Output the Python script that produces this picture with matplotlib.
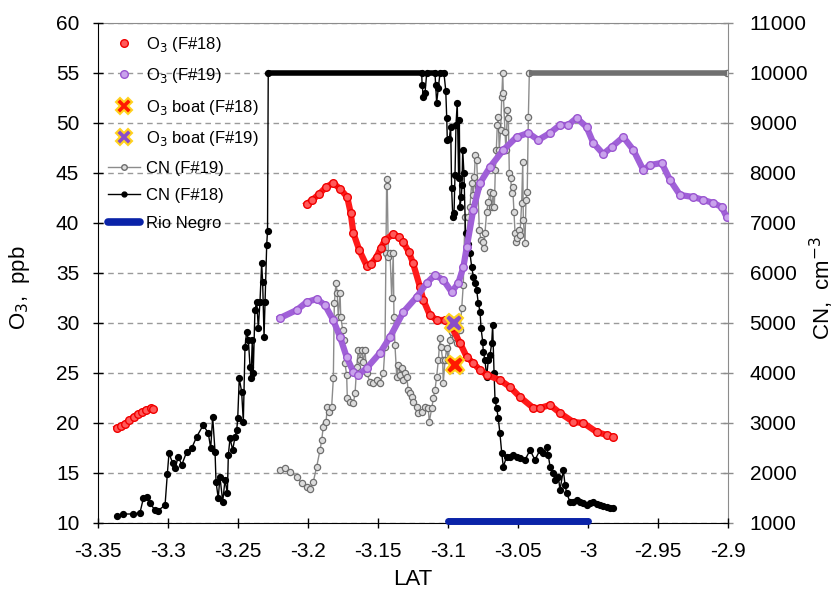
import numpy as np
import matplotlib
matplotlib.use("Agg")
import matplotlib.pyplot as plt
from matplotlib.lines import Line2D

plt.rcParams['font.family'] = ['Liberation Sans', 'DejaVu Sans']

# ---- O3 F#18 (red), nan splits the two legs
o3_18_lat = [-3.3366, -3.3335, -3.3305, -3.3275, -3.3245, -3.3215, -3.3185, -3.3155, -3.3125, -3.3105,
             np.nan,
             -3.2009, -3.197, -3.192, -3.187, -3.182, -3.177, -3.172, -3.1695, -3.1676, -3.1634,
             -3.158, -3.155, -3.151, -3.148, -3.145, -3.139, -3.135, -3.132, -3.128, -3.125,
             -3.120, -3.1176, -3.113, -3.108, -3.102, -3.0974, -3.0914, -3.0866, -3.082, -3.0772,
             -3.0724, -3.0629, -3.0557, -3.0486, -3.039, -3.0343, -3.0271, -3.02, -3.0105, -3.0033,
             -2.9938, -2.9867, -2.982]
o3_18 = [19.5, 19.7, 19.9, 20.3, 20.6, 20.9, 21.1, 21.3, 21.5, 21.4,
         np.nan,
         41.9, 42.3, 42.9, 43.6, 44.0, 43.4, 42.6, 41.0, 39.0, 37.3,
         35.7, 35.9, 36.6, 37.5, 38.3, 38.9, 38.6, 38.1, 37.1, 36.0,
         33.6, 32.3, 30.8, 30.3, 30.3, 29.6, 28.0, 26.6, 26.0, 25.3,
         24.8, 24.3, 23.6, 22.6, 21.5, 21.5, 21.8, 21.0, 20.1, 20.0,
         19.1, 18.8, 18.6]

# ---- O3 F#19 (purple)
o3_19_lat = [-3.2200, -3.2080, -3.2009, -3.1938, -3.1879, -3.1820, -3.1771, -3.1724, -3.1676, -3.1640,
             -3.1580, -3.1486, -3.1414, -3.1319, -3.1224, -3.1152, -3.1093, -3.1033, -3.0974, -3.0926,
             -3.0890, -3.0866, -3.0820, -3.0771, -3.0700, -3.0605, -3.0510, -3.0426, -3.0355, -3.0271,
             -3.0200, -3.0141, -3.0081, -3.0010, -2.9962, -2.9891, -2.9831, -2.9748, -2.9676, -2.9605,
             -2.9557, -2.9474, -2.9414, -2.9343, -2.9248, -2.9176, -2.9105, -2.9045, -2.9010]
o3_19 = [30.5, 31.3, 32.1, 32.4, 31.8, 30.3, 28.6, 26.6, 25.1, 24.8,
         25.5, 27.0, 28.6, 31.1, 32.6, 34.0, 34.8, 34.3, 33.1, 34.0,
         35.6, 37.6, 41.3, 44.0, 45.6, 47.3, 48.6, 49.0, 48.3, 49.0,
         49.8, 49.8, 50.5, 49.6, 48.0, 46.9, 47.6, 48.6, 47.3, 45.3,
         45.8, 46.0, 44.3, 42.8, 42.6, 42.3, 42.0, 41.6, 40.6]

# ---- O3 boat
boat18_lat, boat18 = [-3.095], [25.8]
boat19_lat, boat19 = [-3.0955], [30.0]

# ---- CN F#18 (black)
cn18_lat = [-3.3366, -3.3319, -3.3248, -3.3200, -3.3176, -3.3152, -3.3129, -3.3093, -3.3069, -3.3021,
            -3.3005, -3.2993, -3.2966, -3.2950, -3.2926, -3.2902, -3.2866, -3.2831, -3.2795, -3.2748,
            -3.2712, -3.2695, -3.2681, -3.2664, -3.2657, -3.2641, -3.2629, -3.2609, -3.2593, -3.2576,
            -3.2569, -3.2557, -3.2538, -3.2521, -3.2509, -3.2502, -3.2491, -3.2474, -3.2462, -3.2450,
            -3.2438, -3.2426, -3.2414, -3.2407, -3.2398, -3.2391, -3.2379, -3.2366, -3.2355, -3.2343,
            -3.2331, -3.2324, -3.2314, -3.2307, -3.2295, -3.2289, -3.2284,
            -3.1188, -3.1185, -3.1176, -3.1164, -3.1152, -3.1093, -3.1088, -3.1081, -3.1069, -3.1057,
            -3.1029, -3.1016, -3.1009, -3.1005, -3.0991, -3.0981, -3.0974, -3.0966, -3.0957, -3.0950,
            -3.0943, -3.0934, -3.0924, -3.0919, -3.0914, -3.0905, -3.0900, -3.0895, -3.0886, -3.0875,
            -3.0864, -3.0855, -3.0843, -3.0831, -3.0819, -3.0807, -3.0795, -3.0784, -3.0771, -3.0764,
            -3.0752, -3.0748, -3.0736, -3.0724, -3.0712, -3.0700, -3.0688, -3.0681, -3.0671, -3.0664,
            -3.0652, -3.0641, -3.0629, -3.0616, -3.0605, -3.0581, -3.0557, -3.0534, -3.0509, -3.0486,
            -3.0450, -3.0414, -3.0379, -3.0343, -3.0319, -3.0295, -3.0284, -3.0271, -3.0248, -3.0236,
            -3.0212, -3.0200, -3.0176, -3.0164, -3.0152, -3.0129, -3.0105, -3.0081, -3.0057, -3.0034,
            -3.0009, -2.9986, -2.9962, -2.9938, -2.9914, -2.9891, -2.9867, -2.9843, -2.9819]
cn18 = [1140, 1180, 1180, 1206, 1494, 1514, 1394, 1260, 1250, 1360,
        1974, 2394, 2194, 2094, 2326, 2160, 2426, 2494, 2726, 2960,
        2794, 2494, 3126, 2426, 1826, 1494, 1926, 1426, 1860, 1594,
        2360, 2694, 2460, 2726, 2860, 3094, 3894, 3626, 3026, 4526,
        4826, 4660, 4126, 3894, 4660, 4000, 5260, 5426, 4894, 5426,
        6194, 5826, 4726, 5426, 6560, 6846, 10000,
        10000, 9760, 9526, 9606, 10000, 10000, 9760, 9406, 9694, 10000,
        10000, 9646, 9094, 8660, 8674, 8926, 7694, 7126, 7194, 7960,
        8960, 9406, 7894, 9060, 7326, 7526, 7760, 8460, 7994, 6794,
        6460, 6590, 6394, 6126, 5926, 5794, 5660, 5400, 5226, 4894,
        4626, 4426, 4260, 3926, 4260, 4360, 4594, 4960, 3994, 3460,
        3294, 3094, 2794, 2394, 2126, 2326, 2330, 2360, 2330, 2294,
        2260, 2460, 2260, 2460, 2394, 2526, 2360, 2126, 1994, 1860,
        1930, 1660, 2060, 1760, 1594, 1426, 1426, 1460, 1426, 1400,
        1360, 1400, 1426, 1380, 1360, 1340, 1326, 1310, 1294]

# ---- CN F#19 (grey)
cn19_lat = [-3.2200, -3.2164, -3.2129, -3.2081, -3.2045, -3.2009, -3.1986, -3.1962, -3.1938, -3.1914,
            -3.1902, -3.1891, -3.1871, -3.1862, -3.1848, -3.1831, -3.1819, -3.1812, -3.1800, -3.1791,
            -3.1784, -3.1771, -3.1766, -3.1752, -3.1743, -3.1736, -3.1724, -3.1719, -3.1700, -3.1676,
            -3.1664, -3.1652, -3.1641, -3.1629, -3.1616, -3.1605, -3.1593, -3.1581, -3.1557, -3.1534,
            -3.1509, -3.1486, -3.1462, -3.1450, -3.1443, -3.1438, -3.1434, -3.1426, -3.1414, -3.1402,
            -3.1391, -3.1386, -3.1379, -3.1366, -3.1355, -3.1343, -3.1331, -3.1319, -3.1307, -3.1295,
            -3.1284, -3.1271, -3.1259, -3.1248, -3.1224, -3.1212, -3.1188, -3.1164, -3.1141, -3.1134,
            -3.1116, -3.1105, -3.1093, -3.1081, -3.1069, -3.1057, -3.1050, -3.1038, -3.1034, -3.1021,
            -3.1009, -3.0998, -3.0986, -3.0974, -3.0950, -3.0934, -3.0914, -3.0902, -3.0891, -3.0879,
            -3.0866, -3.0855, -3.0843, -3.0831, -3.0819, -3.0812, -3.0805, -3.0795, -3.0788, -3.0776,
            -3.0764, -3.0752, -3.0743, -3.0736, -3.0724, -3.0712, -3.0700, -3.0688, -3.0676, -3.0669,
            -3.0662, -3.0655, -3.0648, -3.0641, -3.0634, -3.0624, -3.0616, -3.0609, -3.0605, -3.0593,
            -3.0586, -3.0576, -3.0569, -3.0562, -3.0552, -3.0545, -3.0538, -3.0529, -3.0521, -3.0514,
            -3.0505, -3.0495, -3.0486, -3.0474, -3.0466, -3.0462, -3.0450, -3.0443, -3.0434, -3.0426,
            -3.0419, -2.9007]
cn19 = [2060, 2094, 2026, 1926, 1794, 1714, 1674, 1826, 2126, 2460,
        2660, 2926, 3026, 3326, 3226, 3326, 3894, 5394, 5806, 5594,
        5126, 5594, 5126, 4860, 4660, 4194, 3960, 3494, 3426, 3394,
        3594, 4126, 4460, 4260, 4460, 4226, 4460, 3994, 3826, 3794,
        3860, 3794, 3994, 4526, 6394, 7874, 7740, 6326, 6394, 5494,
        6394, 5126, 4560, 3926, 4160, 3960, 4094, 3860, 3994, 3926,
        3660, 3594, 3526, 3426, 3326, 3194, 3226, 3326, 3294, 3026,
        3294, 3494, 3660, 3926, 4260, 4694, 4526, 4260, 3794, 4260,
        4494, 4260, 4660, 4826, 4726, 4594, 4860, 5294, 5760, 7126,
        6526, 7126, 7326, 7794, 7560, 7926, 8360, 8260, 7726, 6860,
        6660, 6626, 6494, 6794, 7226, 7426, 7626, 7326, 7594, 7326,
        8060, 8460, 8960, 9126, 8460, 8860, 9526, 10000, 9594, 8826,
        8460, 9260, 9094, 7994, 7894, 7594, 7726, 7226, 6794, 6626,
        6694, 6860, 6760, 7394, 8226, 7060, 6594, 7460, 7626, 9126,
        10000, 10000]

rio_negro_lat = [-3.1, -3.0]
cn_max = 10000

fig = plt.figure(figsize=(8.39, 5.97), dpi=100)
ax = fig.add_axes([98/839, 1-523/597, 630/839, 500/597])
ax2 = ax.twinx()
ax.set_zorder(ax2.get_zorder() + 1)
ax.patch.set_visible(False)

# CN on the right axis (drawn below the O3 layer)
ax2.plot(cn19_lat, cn19, '-o', color='#8c8c8c', lw=1, ms=4.5, mfc='#dcdcdc', mec='#6e6e6e', mew=0.9)
ax2.plot(cn18_lat, cn18, '-o', color='black', lw=1, ms=4.2, mfc='black', mec='black')

# saturated counter -> dense markers look like a thick bar
for lats, vals, c in [(cn18_lat, cn18, 'black'), (cn19_lat, cn19, '#707070')]:
    for i in range(len(vals) - 1):
        if vals[i] >= cn_max and vals[i + 1] >= cn_max:
            ax2.plot(lats[i:i + 2], vals[i:i + 2], color=c, lw=4, solid_capstyle='butt')

ax2.set_ylim(1000, 11000)
ax2.set_yticks(np.arange(1000, 11001, 1000))
ax2.grid(axis='y', color='#9a9a9a', ls=(0, (4, 3)), lw=1)
ax2.set_ylabel('CN,  cm$^{-3}$', fontsize=16)
ax2.yaxis.set_label_coords(1.126, 0.47)

# O3 on the left axis
ax.plot(o3_18_lat, o3_18, '-o', color='#ff1a1a', lw=4.5, ms=5.5, mfc='#ff5a5a', mec='#f00000', mew=1)
ax.plot(o3_19_lat, o3_19, '-o', color='#a060d8', lw=4.5, ms=5.5, mfc='#c9a2ec', mec='#9a55d0', mew=1)
ax.plot(boat18_lat, boat18, 'X', ms=13, mfc='#ff1a00', mec='#ffd21e', mew=1.5)
ax.plot(boat19_lat, boat19, 'X', ms=13, mfc='#8a4cc8', mec='#ffd21e', mew=1.5)
ax.plot(rio_negro_lat, [10.2, 10.2], color='#0a23a8', lw=5, solid_capstyle='round', clip_on=False, zorder=5)

ax.set_xlim(-3.35, -2.9)
ax.set_ylim(10, 60)
ax.set_xticks(np.arange(-3.35, -2.899, 0.05))
ax.set_xticklabels(['-3.35', '-3.3', '-3.25', '-3.2', '-3.15', '-3.1', '-3.05', '-3', '-2.95', '-2.9'])
ax.set_yticks(np.arange(10, 61, 5))
ax.set_xlabel('LAT', fontsize=16)
ax.xaxis.set_label_coords(0.5, -0.092)
ax.set_ylabel('O$_3$,  ppb', fontsize=16)
ax.yaxis.set_label_coords(-0.104, 0.47)

ax.tick_params(axis='both', labelsize=15, direction='inout', length=7, width=1)
ax.tick_params(axis='x', pad=10)
ax.tick_params(axis='y', pad=10)
ax2.tick_params(axis='y', labelsize=15, direction='inout', length=7, width=1, color='#8c8c8c', pad=12)

for a in (ax, ax2):
    a.spines['top'].set_color('#8c8c8c')
    a.spines['right'].set_color('#8c8c8c')
ax.spines['right'].set_visible(False)
ax.spines['top'].set_visible(False)
ax2.spines['left'].set_visible(False)
ax2.spines['bottom'].set_visible(False)

handles = [
    Line2D([], [], ls='none', marker='o', ms=5.5, mfc='#ff5a5a', mec='#f00000'),
    Line2D([], [], ls='none', marker='o', ms=5.5, mfc='#c9a2ec', mec='#9a55d0'),
    Line2D([], [], ls='none', marker='X', ms=12, mfc='#ff1a00', mec='#ffd21e', mew=1.5),
    Line2D([], [], ls='none', marker='X', ms=12, mfc='#8a4cc8', mec='#ffd21e', mew=1.5),
    Line2D([], [], color='#8c8c8c', lw=1, marker='o', ms=4, mfc='#dcdcdc', mec='#6e6e6e'),
    Line2D([], [], color='black', lw=1, marker='o', ms=3.5),
    Line2D([], [], color='#0a23a8', lw=5.5, solid_capstyle='round'),
]
labels = ['O$_3$ (F#18)', 'O$_3$ (F#19)', 'O$_3$ boat (F#18)', 'O$_3$ boat (F#19)',
          'CN (F#19)', 'CN (F#18)', 'Rio Negro']
ax.legend(handles, labels, loc='upper left', bbox_to_anchor=(-0.002, 1.0), frameon=False,
          fontsize=12, handlelength=1.9, handletextpad=0.35, labelspacing=0.75, borderaxespad=0.3)

fig.savefig('out.png', dpi=100)
